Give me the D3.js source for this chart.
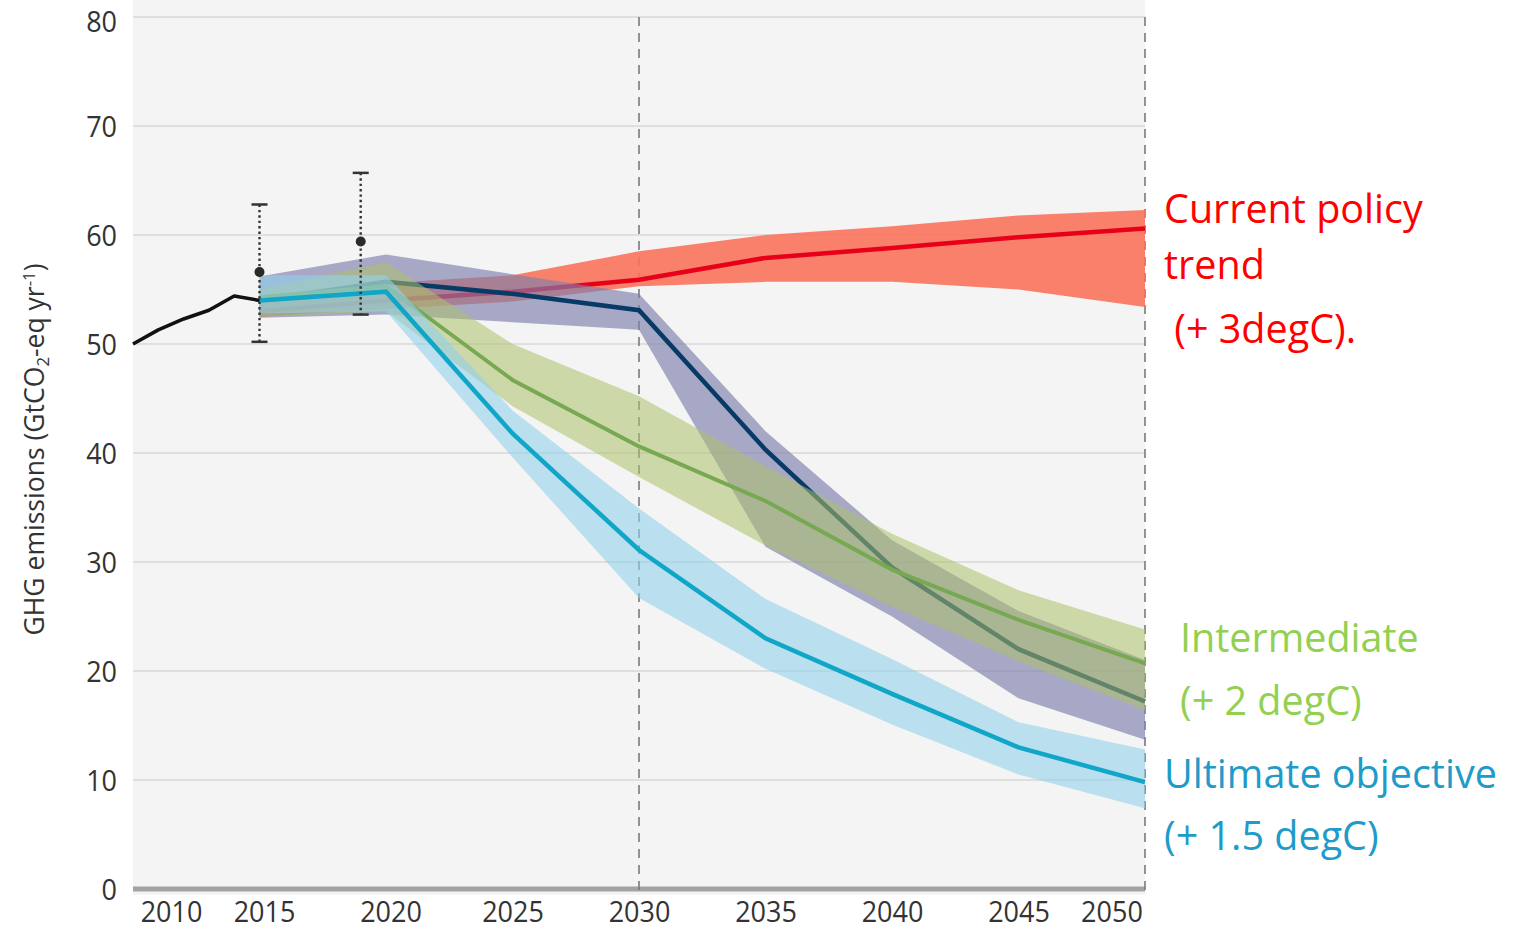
<!DOCTYPE html>
<html>
<head>
<meta charset="utf-8">
<script src="https://cdn.jsdelivr.net/npm/d3@7"></script>
<style>
  html, body { margin: 0; padding: 0; background: #ffffff; }
  svg { display: block; }
  text { font-family: "Open Sans", "Noto Sans", sans-serif; }
</style>
</head>
<body>
<svg id="chart" width="1527" height="930"></svg>
<script>
// ---------------- DATA ----------------
const histYears = [2010, 2011, 2012, 2013, 2014, 2015];
const histValues = [50.0, 51.3, 52.3, 53.1, 54.4, 54.0];

const errYears = [2015, 2019];
const errMid = [56.6, 59.4];
const errLow = [50.2, 52.7];
const errHigh = [62.8, 65.7];

const scenYears = [2015, 2020, 2025, 2030, 2035, 2040, 2045, 2050];

const policyLine  = [53.0, 54.0, 54.8, 55.9, 57.9, 58.8, 59.8, 60.6];
const policyHigh  = [54.0, 55.6, 56.3, 58.5, 60.0, 60.8, 61.8, 62.3];
const policyLow   = [52.5, 53.2, 53.9, 55.3, 55.7, 55.7, 55.0, 53.4];

const ndcLine     = [54.0, 55.7, 54.6, 53.1, 40.3, 29.5, 22.0, 17.2];
const ndcHigh     = [56.2, 58.2, 56.4, 54.6, 42.0, 32.0, 25.5, 21.0];
const ndcLow      = [52.4, 52.7, 52.0, 51.3, 31.4, 25.0, 17.5, 13.7];

const twoLine     = [54.3, 55.3, 46.7, 40.6, 35.6, 29.3, 24.7, 20.7];
const twoHigh     = [55.0, 57.5, 50.0, 45.2, 38.8, 32.6, 27.4, 23.8];
const twoLow      = [52.5, 53.0, 44.3, 37.8, 31.5, 25.9, 20.9, 16.4];

const oneFiveLine = [54.0, 54.8, 41.8, 31.1, 23.0, 17.9, 13.0, 9.8];
const oneFiveHigh = [56.3, 56.3, 43.9, 34.9, 26.6, 21.1, 15.3, 12.8];
const oneFiveLow  = [52.8, 53.0, 39.6, 26.7, 20.2, 15.1, 10.5, 7.4];

const yTicks = [0, 10, 20, 30, 40, 50, 60, 70, 80];
const xTicks = [2010, 2015, 2020, 2025, 2030, 2035, 2040, 2045, 2050];
const dashedYears = [2030, 2050];

const yAxisTitle = ["GHG emissions (GtCO", "2", "-eq yr", "-1", ")"];

const labelPolicy = ["Current policy", "trend", " (+ 3degC)."];
const labelTwo = ["Intermediate", "(+ 2 degC)"];
const labelOneFive = ["Ultimate objective", "(+ 1.5 degC)"];

// ---------------- CHART ----------------
(function () {
const svg = d3.select("#chart");
const mLeft = 133, mRight = 1145, mTop = 17, mBottom = 889;

const x = d3.scaleLinear().domain([2010, 2050]).range([mLeft, mRight]);
const y = d3.scaleLinear().domain([0, 80]).range([mBottom, mTop]);

// plot background
svg.append("rect")
  .attr("x", mLeft).attr("y", 0)
  .attr("width", mRight - mLeft).attr("height", mBottom + 6)
  .attr("fill", "#f4f4f4");

// gridlines
svg.append("g").selectAll("line")
  .data(yTicks.filter(d => d > 0))
  .join("line")
  .attr("x1", mLeft).attr("x2", mRight)
  .attr("y1", d => y(d)).attr("y2", d => y(d))
  .attr("stroke", "#d8d8d8").attr("stroke-width", 1.5);

// y axis labels
const yAxis = d3.axisLeft(y).tickValues(yTicks).tickSize(0).tickPadding(0);
const yg = svg.append("g").attr("transform", `translate(${mLeft - 16},0)`).call(yAxis);
yg.select(".domain").remove();
yg.selectAll("text")
  .attr("font-family", "'Open Sans', sans-serif")
  .attr("font-size", 30)
  .attr("fill", "#333333")
  .attr("transform", "scale(0.9,1)")
  .attr("dy", "0.34em")
  .attr("x", 0);
yg.selectAll(".tick").filter(d => d === 80).select("text").attr("dy", "0.48em");

// x axis labels
const xAxis = d3.axisBottom(x).tickValues(xTicks).tickFormat(d3.format("d")).tickSize(0).tickPadding(0);
const xg = svg.append("g").attr("transform", `translate(0,${mBottom})`).call(xAxis);
xg.select(".domain").remove();
xg.selectAll("text")
  .attr("font-family", "'Open Sans', sans-serif")
  .attr("font-size", 30)
  .attr("fill", "#333333")
  .attr("y", 33)
  .attr("dy", 0)
  .attr("transform", "scale(0.9,1)");
xg.selectAll(".tick").filter(d => d === 2010).select("text").attr("text-anchor", "start").attr("x", 8);
xg.selectAll(".tick").filter(d => d === 2015 || d === 2020).select("text").attr("x", 5);
xg.selectAll(".tick").filter(d => d === 2050).select("text").attr("text-anchor", "end").attr("x", -3);

// y axis title
const yt = svg.append("text")
  .attr("transform", `translate(44,${(263 + 636) / 2}) rotate(-90)`)
  .attr("text-anchor", "middle")
  .attr("font-size", 27)
  .attr("fill", "#333333");
yAxisTitle.forEach((s, i) => {
  const t = yt.append("tspan").text(s);
  if (i === 1) t.attr("font-size", 17).attr("dy", 5);
  if (i === 2) t.attr("dy", -5);
  if (i === 3) t.attr("font-size", 17).attr("dy", -9);
  if (i === 4) t.attr("dy", 9);
});
yt.attr("textLength", 372).attr("lengthAdjust", "spacingAndGlyphs");

// baseline
svg.append("line")
  .attr("x1", mLeft).attr("x2", mRight)
  .attr("y1", y(0)).attr("y2", y(0))
  .attr("stroke", "#a3a3a3").attr("stroke-width", 5);

// dashed verticals
svg.append("g").selectAll("line")
  .data(dashedYears)
  .join("line")
  .attr("x1", d => x(d)).attr("x2", d => x(d))
  .attr("y1", mTop).attr("y2", mBottom + 4)
  .attr("stroke", "#7a7a7a").attr("stroke-width", 1.6)
  .attr("stroke-dasharray", "9,7");

// helpers
const area = d3.area().x(d => x(d.year)).y0(d => y(d.lo)).y1(d => y(d.hi));
const line = d3.line().x(d => x(d.year)).y(d => y(d.v));

function band(lo, hi) { return scenYears.map((yr, i) => ({ year: yr, lo: lo[i], hi: hi[i] })); }
function series(vals, years) { return (years || scenYears).map((yr, i) => ({ year: yr, v: vals[i] })); }

const g = svg.append("g");

// Current policy (red)
g.append("path").attr("d", area(band(policyLow, policyHigh))).attr("fill", "#fa735c").attr("opacity", 0.9);
g.append("path").attr("d", line(series(policyLine))).attr("fill", "none").attr("stroke", "#e8001b").attr("stroke-width", 4.5);

// NDC-like (navy / lavender)
g.append("path").attr("d", area(band(ndcLow, ndcHigh))).attr("fill", "#7d7fad").attr("opacity", 0.65);
g.append("path").attr("d", line(series(ndcLine))).attr("fill", "none").attr("stroke", "#083a66").attr("stroke-width", 4.5);

// 2 degC (green)
g.append("path").attr("d", area(band(twoLow, twoHigh))).attr("fill", "#adc169").attr("opacity", 0.55);
g.append("path").attr("d", line(series(twoLine))).attr("fill", "none").attr("stroke", "#77a852").attr("stroke-width", 4);

// 1.5 degC (cyan)
g.append("path").attr("d", area(band(oneFiveLow, oneFiveHigh))).attr("fill", "#92d1ea").attr("opacity", 0.6);
g.append("path").attr("d", line(series(oneFiveLine))).attr("fill", "none").attr("stroke", "#0fa6c8").attr("stroke-width", 4.5);

// historical (black)
g.append("path").attr("d", line(series(histValues, histYears))).attr("fill", "none")
  .attr("stroke", "#111111").attr("stroke-width", 3.6).attr("stroke-linejoin", "round");

// error bars
const eb = svg.append("g").selectAll("g")
  .data(errYears.map((yr, i) => ({ year: yr, mid: errMid[i], lo: errLow[i], hi: errHigh[i] })))
  .join("g");
eb.append("line")
  .attr("x1", d => x(d.year)).attr("x2", d => x(d.year))
  .attr("y1", d => y(d.hi)).attr("y2", d => y(d.lo))
  .attr("stroke", "#333333").attr("stroke-width", 2.4).attr("stroke-dasharray", "2.4,3");
eb.append("line")
  .attr("x1", d => x(d.year) - 8).attr("x2", d => x(d.year) + 8)
  .attr("y1", d => y(d.hi)).attr("y2", d => y(d.hi))
  .attr("stroke", "#333333").attr("stroke-width", 2.5);
eb.append("line")
  .attr("x1", d => x(d.year) - 8).attr("x2", d => x(d.year) + 8)
  .attr("y1", d => y(d.lo)).attr("y2", d => y(d.lo))
  .attr("stroke", "#333333").attr("stroke-width", 2.5);
eb.append("circle")
  .attr("cx", d => x(d.year)).attr("cy", d => y(d.mid)).attr("r", 5)
  .attr("fill", "#2a2a2a");

// right-side labels
function addLabel(lines, color, xs, baselines) {
  const t = svg.append("g");
  lines.forEach((s, i) => {
    t.append("text")
      .attr("x", xs[i]).attr("y", baselines[i])
      .attr("font-size", 39.5)
      .attr("fill", color)
      .style("white-space", "pre")
      .attr("xml:space", "preserve")
      .text(s);
  });
}
addLabel(labelPolicy, "#ff0000", [1164, 1164, 1164], [223, 279, 343]);
addLabel(labelTwo, "#92d050", [1180, 1180], [652, 715]);
addLabel(labelOneFive, "#1e9bc8", [1164, 1164], [788, 850]);
})();
</script>
</body>
</html>
